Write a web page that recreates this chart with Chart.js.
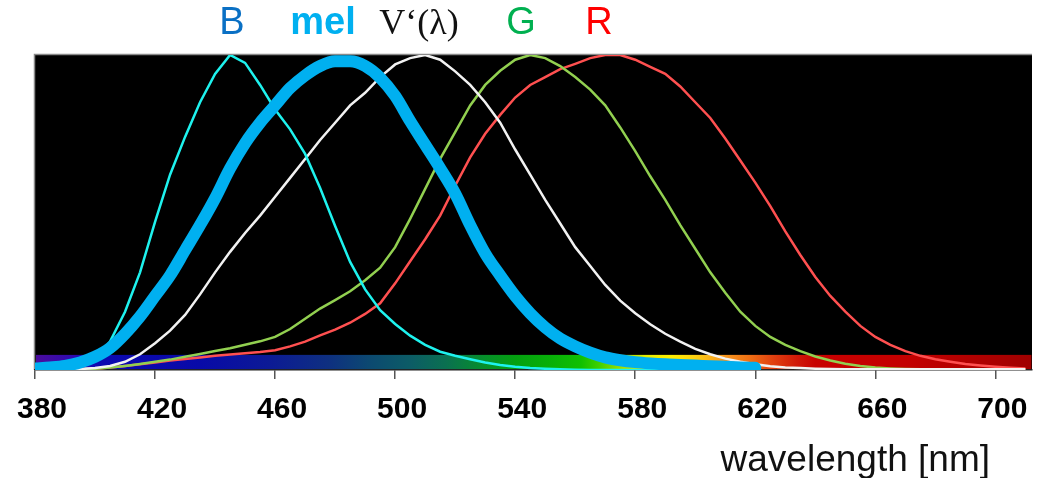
<!DOCTYPE html>
<html lang="en">
<head>
<meta charset="UTF-8">
<title>Spectral sensitivities</title>
<script src="https://cdn.jsdelivr.net/npm/chart.js@4.4.1/dist/chart.umd.min.js"></script>
<style>
  html, body { margin: 0; padding: 0; background: #fff; }
  #chart { display: block; }
</style>
</head>
<body>
<canvas id="chart" width="1042" height="478"></canvas>
<script>
// wavelength grid, nm
const wavelengths = [380,385,390,395,400,405,410,415,420,425,430,435,440,445,450,455,460,465,470,475,
  480,485,490,495,500,505,510,515,520,525,530,535,540,545,550,555,560,565,570,575,
  580,585,590,595,600,605,610,615,620,625,630,635,640,645,650,655,660,665,670,675,
  680,685,690,695,700,705,710];

// relative sensitivities
const blueCone = [0,0,0.003,0.012,0.035,0.09,0.185,0.31,0.47,0.62,0.74,0.85,0.94,1.0,0.975,0.905,0.827,0.764,0.686,0.578,
  0.457,0.343,0.256,0.19,0.146,0.109,0.08,0.058,0.045,0.034,0.024,0.016,0.01,0.006,0.004,0.002,0.001,0,0,0,
  0,0,0,0,0,null,null,null,null,null,null,null,null,null,null,null,null,null,null,null,
  null,null,null,null,null,null,null];
const melanopsin = [0.005,0.008,0.013,0.024,0.042,0.07,0.115,0.17,0.235,0.30,0.38,0.46,0.545,0.64,0.72,0.785,0.84,0.895,0.935,0.965,
  0.98,0.98,0.965,0.928,0.87,0.79,0.715,0.64,0.56,0.46,0.37,0.30,0.235,0.18,0.135,0.10,0.075,0.055,0.04,0.031,
  0.025,0.021,0.018,0.016,0.014,0.012,0.01,0.008,0.007,null,null,null,null,null,null,null,null,null,null,null,
  null,null,null,null,null,null,null];
const scotopic = [0,0.001,0.002,0.003,0.006,0.013,0.026,0.05,0.085,0.125,0.175,0.24,0.31,0.375,0.435,0.49,0.55,0.61,0.67,0.73,
  0.785,0.84,0.88,0.93,0.97,0.99,1.0,0.985,0.948,0.905,0.85,0.785,0.70,0.62,0.54,0.465,0.39,0.33,0.27,0.22,
  0.18,0.145,0.115,0.09,0.067,0.05,0.036,0.026,0.018,0.012,0.008,0.006,0.004,0.003,0.002,0.002,0.002,0.002,0.002,0.002,
  0.002,0.002,0.002,0.002,0.002,0.002,0.002];
const greenCone = [0,0,0.001,0.002,0.004,0.008,0.013,0.019,0.026,0.033,0.042,0.051,0.06,0.069,0.08,0.091,0.105,0.13,0.163,0.195,
  0.222,0.25,0.285,0.325,0.39,0.48,0.575,0.67,0.755,0.84,0.905,0.95,0.985,1.0,0.99,0.965,0.93,0.89,0.84,0.77,
  0.695,0.615,0.54,0.46,0.385,0.31,0.245,0.185,0.14,0.105,0.08,0.06,0.043,0.03,0.02,0.013,0.008,0.005,0.003,0.002,
  0.001,0.001,0.001,0.001,0.001,0.001,0.001];
const redCone = [0,0,0.001,0.002,0.004,0.008,0.013,0.018,0.024,0.03,0.035,0.04,0.045,0.049,0.053,0.057,0.063,0.075,0.09,0.11,
  0.128,0.15,0.178,0.212,0.275,0.345,0.415,0.49,0.585,0.675,0.75,0.81,0.865,0.905,0.93,0.955,0.972,0.99,1.0,1.0,
  0.985,0.962,0.94,0.9,0.85,0.8,0.735,0.665,0.595,0.52,0.44,0.365,0.295,0.235,0.185,0.14,0.105,0.08,0.06,0.045,
  0.034,0.026,0.019,0.014,0.01,0.007,0.005];

const tickValues = [380,420,460,500,540,580,620,660,700];
const curveNames = ['B', 'mel', 'V\u2018(\u03bb)', 'G', 'R'];
const axisTitle = 'wavelength [nm]';

// colour bar under the curves
const spectrumNm = [380,392,402,435,458,478,492,505,517,530,540,552,562,568,576,584,592,600,608,618,626,634,640,670,700,712];
const spectrumColors = ['#4c0c9c','#300ab0','#0c08b0','#080aa8','#0c1a95','#0e3080','#0c4a70','#0c5c66','#0a7050','#06902a',
  '#04a010','#08b008','#10c000','#40d000','#a8e000','#e8ec00','#ffee00','#fdd010','#f8a020','#f07014',
  '#e04010','#d01808','#c80000','#c40000','#aa0000','#a00000'];

const toPoints = vals => wavelengths.map((nm, i) => ({ x: nm, y: vals[i] }));

// label placement / style
const labelStyle = [
  { cx: 232, color: '#0a70c4', font: '38px "Liberation Sans", Arial, sans-serif' },
  { cx: 323, color: '#00b0f0', font: 'bold 38px "Liberation Sans", Arial, sans-serif' },
  { cx: 419, color: '#111111', font: '36px "Liberation Serif", "Times New Roman", serif' },
  { cx: 521, color: '#00b050', font: '38px "Liberation Sans", Arial, sans-serif' },
  { cx: 599, color: '#ff0000', font: '38px "Liberation Sans", Arial, sans-serif' }
];

const decorations = {
  id: 'decorations',
  beforeDraw(chart) {
    const { ctx, chartArea: a } = chart;
    ctx.save();
    ctx.fillStyle = '#000';
    ctx.fillRect(a.left, a.top, a.right - a.left, a.bottom - a.top);
    ctx.strokeStyle = '#8a8a8a';
    ctx.lineWidth = 1.5;
    ctx.beginPath();
    ctx.moveTo(a.left - 0.5, a.bottom);
    ctx.lineTo(a.left - 0.5, a.top - 0.5);
    ctx.lineTo(a.right, a.top - 0.5);
    ctx.stroke();
    ctx.restore();
  },
  beforeDatasetsDraw(chart) {
    const { ctx } = chart;
    const xs = chart.scales.x, ys = chart.scales.y;
    const x0 = xs.getPixelForValue(spectrumNm[0]);
    const x1 = xs.getPixelForValue(spectrumNm[spectrumNm.length - 1]);
    const g = ctx.createLinearGradient(x0, 0, x1, 0);
    spectrumNm.forEach((nm, i) => {
      g.addColorStop((xs.getPixelForValue(nm) - x0) / (x1 - x0), spectrumColors[i]);
    });
    const yTop = ys.getPixelForValue(0.048), yBot = ys.getPixelForValue(0.003);
    ctx.save();
    ctx.fillStyle = g;
    ctx.fillRect(x0 + 1, yTop, x1 - x0 - 1, yBot - yTop);
    ctx.restore();
  },
  afterDraw(chart) {
    const { ctx } = chart;
    ctx.save();
    ctx.textAlign = 'center';
    ctx.textBaseline = 'alphabetic';
    curveNames.forEach((txt, i) => {
      ctx.font = labelStyle[i].font;
      ctx.fillStyle = labelStyle[i].color;
      ctx.fillText(txt, labelStyle[i].cx, 34);
    });
    ctx.textAlign = 'right';
    ctx.font = '37px "Liberation Sans", Arial, sans-serif';
    ctx.fillStyle = '#111';
    ctx.fillText(axisTitle, 990, 471);
    ctx.restore();
  }
};

const thin = 2.5;

new Chart(document.getElementById('chart'), {
  type: 'line',
  data: {
    datasets: [
      { label: 'mel', data: toPoints(melanopsin), borderColor: '#00b0f0', borderWidth: 12,
        cubicInterpolationMode: 'monotone', borderCapStyle: 'round', borderJoinStyle: 'round', order: 0 },
      { label: 'B', data: toPoints(blueCone), borderColor: '#1ef2ee', borderWidth: thin, order: 1 },
      { label: 'V', data: toPoints(scotopic), borderColor: '#f2f2f2', borderWidth: thin, order: 2 },
      { label: 'G', data: toPoints(greenCone), borderColor: '#92d050', borderWidth: thin, order: 3 },
      { label: 'R', data: toPoints(redCone), borderColor: '#ff5050', borderWidth: thin, order: 4 }
    ]
  },
  options: {
    responsive: false,
    animation: false,
    devicePixelRatio: 1,
    layout: { padding: { left: 35, right: 10, top: 55, bottom: 0 } },
    elements: { point: { radius: 0 }, line: { tension: 0, fill: false } },
    plugins: { legend: { display: false }, tooltip: { enabled: false } },
    scales: {
      x: {
        type: 'linear',
        min: 380,
        max: 712.2,
        afterBuildTicks: s => { s.ticks = tickValues.map(v => ({ value: v })); },
        afterFit: s => { s.height = 108; s.paddingLeft = 0; s.paddingRight = 0; },
        ticks: {
          color: '#000',
          padding: 13,
          labelOffset: 7,
          maxRotation: 0,
          font: { family: '"Liberation Sans", Arial, sans-serif', size: 30, weight: 'bold' },
          callback: v => String(v)
        },
        grid: { drawOnChartArea: false, drawTicks: true, tickLength: 9, color: '#555', lineWidth: 1.5 },
        border: { display: true, color: '#222', width: 1.5 }
      },
      y: { display: false, min: 0, max: 1 }
    }
  },
  plugins: [decorations]
});
</script>
</body>
</html>
